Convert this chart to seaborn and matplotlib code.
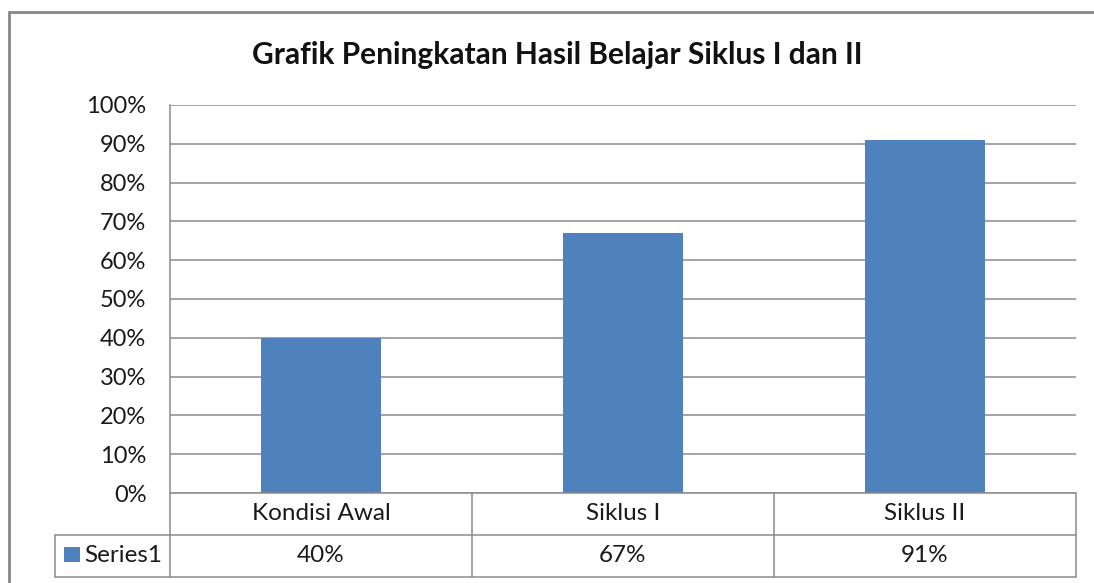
import matplotlib
matplotlib.use("Agg")
import matplotlib.pyplot as plt
import matplotlib.transforms as mtransforms
from matplotlib.patches import Rectangle
import seaborn as sns
import pandas as pd

categories = ["Kondisi Awal", "Siklus I", "Siklus II"]
values = [40, 67, 91]
value_labels = ["40%", "67%", "91%"]
series_name = "Series1"
yticks = [0, 10, 20, 30, 40, 50, 60, 70, 80, 90, 100]
ytick_labels = [f"{t}%" for t in yticks]
title = "Grafik Peningkatan Hasil Belajar Siklus I dan II"

sns.set_theme(style="white")
plt.rcParams['font.family'] = ['Lato', 'DejaVu Sans']

W, H = 1094, 583
fig = plt.figure(figsize=(W / 100, H / 100), dpi=100)

def fx(px):
    return px / W

def fy(py):
    return 1 - py / H

left, right, top, bottom = 170, 1076, 105, 493
ax = fig.add_axes([fx(left), fy(bottom), fx(right - left), (bottom - top) / H])

df = pd.DataFrame({"cat": categories, "val": values})
bar_color = "#4F81BD"
sns.barplot(data=df, x="cat", y="val", color=bar_color, width=0.4,
            saturation=1, ax=ax, edgecolor="none")

ax.set_xlim(-0.5, len(categories) - 0.5)
ax.set_ylim(0, 100)
ax.set_yticks(yticks)
ax.set_yticklabels(ytick_labels, fontsize=17, color="#1a1a1a")
ax.tick_params(axis="y", length=0, pad=17)
ax.set_xticks([])
ax.set_xlabel("")
ax.set_ylabel("")
grid_c = "#8c8c8c"
ax.yaxis.grid(True, color=grid_c, linewidth=1.1)
ax.set_axisbelow(True)
for s in ["top", "right", "bottom"]:
    ax.spines[s].set_visible(False)
ax.spines["left"].set_color(grid_c)
ax.spines["left"].set_linewidth(1.1)

# data table below the axes (x in data, y in axes fraction)
trans = mtransforms.blended_transform_factory(ax.transData, ax.transAxes)
row_h = 42 / (bottom - top)
x_left_legend = -0.5 - (left - 55) / 302
xr = len(categories) - 0.5
lkw = dict(color=grid_c, linewidth=1.1, transform=trans, clip_on=False)
ax.plot([-0.5, xr], [0, 0], **lkw)
ax.plot([x_left_legend, xr], [-row_h, -row_h], **lkw)
ax.plot([x_left_legend, xr], [-2 * row_h, -2 * row_h], **lkw)
ax.plot([x_left_legend, x_left_legend], [-row_h, -2 * row_h], **lkw)
for xb in [i - 0.5 for i in range(len(categories) + 1)]:
    ax.plot([xb, xb], [0, -2 * row_h], **lkw)

for i, (c, v) in enumerate(zip(categories, value_labels)):
    ax.text(i, -0.5 * row_h, c, transform=trans, ha="center", va="center",
            fontsize=17.5, color="#1a1a1a")
    ax.text(i, -1.5 * row_h, v, transform=trans, ha="center", va="center",
            fontsize=17.5, color="#1a1a1a")

# legend key in table
fig.patches.append(Rectangle((fx(64), fy(562)), 16 / W, 15 / H, transform=fig.transFigure,
                             facecolor=bar_color, edgecolor="none"))
fig.text(fx(84), fy(556), series_name, ha="left", va="center", fontsize=17.5, color="#1a1a1a")

# title
fig.text(fx(557), fy(55), title, ha="center", va="center", fontsize=21.5,
         fontweight="bold", color="#111111")

# outer chart border
fig.patches.append(Rectangle((fx(9), fy(700)), (W + 50) / W, (700 - 12) / H,
                             transform=fig.transFigure, facecolor="none",
                             edgecolor="#878787", linewidth=2))

fig.savefig("out.png", dpi=100)
